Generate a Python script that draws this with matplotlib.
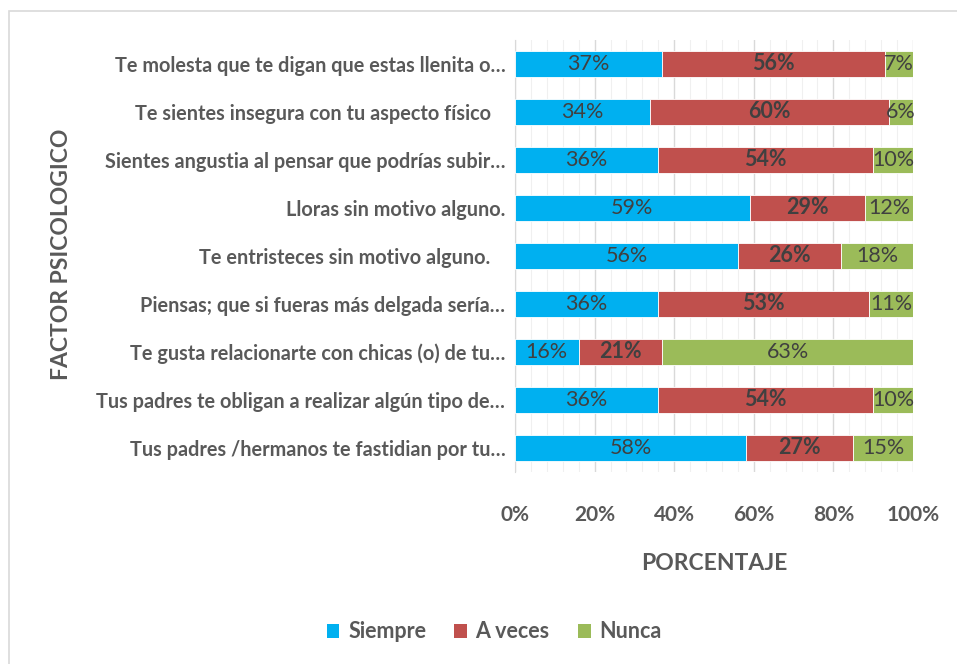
import matplotlib
matplotlib.use("Agg")
import matplotlib.pyplot as plt
from matplotlib.patches import Rectangle, Patch
from matplotlib.ticker import MultipleLocator, FuncFormatter

plt.rcParams['font.family'] = ['Lato', 'DejaVu Sans']

# Data (top to bottom)
categories = [
    "Te molesta que te digan que estas llenita o…",
    "Te sientes insegura con tu aspecto físico   ",
    "Sientes angustia al pensar que podrías subir…",
    "Lloras sin motivo alguno.",
    "Te entristeces sin motivo alguno.   ",
    "Piensas; que si fueras más delgada sería…",
    "Te gusta relacionarte con chicas (o) de tu…",
    "Tus padres te obligan a realizar algún tipo de…",
    "Tus padres /hermanos te fastidian por tu…",
]
siempre = [37, 34, 36, 59, 56, 36, 16, 36, 58]
a_veces = [56, 60, 54, 29, 26, 53, 21, 54, 27]
nunca = [7, 6, 10, 12, 18, 11, 63, 10, 15]
series_names = ["Siempre", "A veces", "Nunca"]
colors = ["#00B0F0", "#C0504D", "#9BBB59"]
x_ticks = [0, 20, 40, 60, 80, 100]

W, H = 957, 664
fig = plt.figure(figsize=(W / 100, H / 100), dpi=100)
ax = fig.add_axes([515 / W, 1 - 472 / H, (913 - 515) / W, (472 - 40) / H])

# outer chart border
fig.patches.append(Rectangle((9 / W, -0.01), 1.0, 1 - 11 / H + 0.01, transform=fig.transFigure,
                             fill=False, edgecolor="#D9D9D9", linewidth=1.2, zorder=0))

y = list(range(len(categories)))
left = [0] * len(categories)
for name, vals, col in zip(series_names, [siempre, a_veces, nunca], colors):
    bars = ax.barh(y, vals, left=left, height=0.56, color=col, edgecolor="white",
                   linewidth=0.6, label=name, zorder=3)
    bold = name == "A veces"
    for b, v in zip(bars, vals):
        ax.text(b.get_x() + b.get_width() / 2, b.get_y() + b.get_height() / 2, f"{v}%",
                ha="center", va="center", fontsize=15.5, color="#404040",
                fontweight="bold" if bold else "normal", zorder=4)
    left = [l + v for l, v in zip(left, vals)]

ax.set_xlim(0, 100)
ax.set_ylim(len(categories) - 0.5, -0.5)
ax.set_yticks(y)
ax.set_yticklabels(categories, fontsize=14.3, fontweight="bold", color="#595959")
ax.set_xticks(x_ticks)
ax.xaxis.set_major_formatter(FuncFormatter(lambda v, p: f"{int(v)}%"))
ax.xaxis.set_minor_locator(MultipleLocator(4))
ax.tick_params(axis="x", which="both", length=0, pad=24, labelsize=15, labelcolor="#595959")
for lab in ax.get_xticklabels():
    lab.set_fontweight("bold")
ax.tick_params(axis="y", length=0, pad=7)

ax.grid(axis="x", which="major", color="#D9D9D9", linewidth=1.0, zorder=0)
ax.grid(axis="x", which="minor", color="#F0F0F0", linewidth=0.8, zorder=0)
for s in ["top", "right", "bottom"]:
    ax.spines[s].set_visible(False)
ax.spines["left"].set_color("#D9D9D9")

fig.text(714 / W, 1 - 563 / H, "PORCENTAJE", ha="center", va="center",
         fontsize=16.5, fontweight="bold", color="#595959")
fig.text(62 / W, 1 - 254 / H, "FACTOR PSICOLOGICO", ha="center", va="center",
         rotation=90, fontsize=16.5, fontweight="bold", color="#595959")

handles = [Patch(facecolor=c, label=n) for n, c in zip(series_names, colors)]
leg = fig.legend(handles=handles, loc="center", bbox_to_anchor=(494 / W, 1 - 632 / H),
                 ncol=3, frameon=False, fontsize=15.5, handlelength=0.6, handleheight=0.6,
                 handletextpad=0.4, columnspacing=1.3)
for t in leg.get_texts():
    t.set_fontweight("bold")
    t.set_color("#595959")

fig.savefig("out.png", dpi=100)
